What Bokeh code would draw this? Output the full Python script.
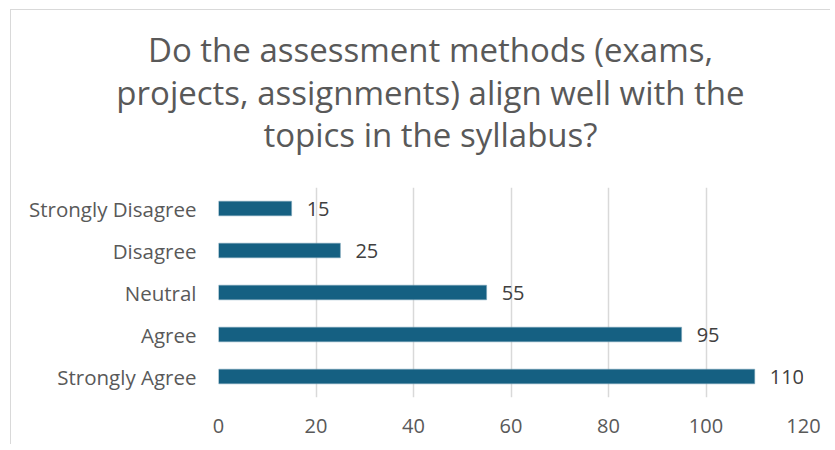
from bokeh.plotting import figure
from bokeh.models import ColumnDataSource, LabelSet, Label, Range1d
from bokeh.layouts import column
from bokeh.core.properties import value
from bokeh.embed import file_html
from bokeh.resources import INLINE

categories = ["Strongly Agree", "Agree", "Neutral", "Disagree", "Strongly Disagree"]
counts = [110, 95, 55, 25, 15]
x_ticks = [0, 20, 40, 60, 80, 100, 120]
title_lines = ["Do the assessment methods (exams,",
               "projects, assignments) align well with the",
               "topics in the syllabus?"]

FONT = "Open Sans"
TXT = "#595959"
W = 819
TH = 167

# ---- title panel ----
tp = figure(width=W, height=TH, x_range=Range1d(0, W), y_range=Range1d(0, TH),
            output_backend="svg", toolbar_location=None,
            x_axis_type=None, y_axis_type=None, min_border=0)
tp.frame_align = False
tp.grid.visible = False
tp.outline_line_color = None
tp.border_fill_color = "white"
for i, t in enumerate(title_lines):
    tp.add_layout(Label(x=419, y=128 - 42.5 * i, x_units="screen", y_units="screen",
                        text=t, text_align="center", text_baseline="alphabetic",
                        text_font=FONT, text_font_size="33px", text_color=TXT))

# ---- bar chart ----
src = ColumnDataSource(dict(cat=categories, val=counts, lab=[str(v) for v in counts]))

p = figure(width=W, height=434 - TH, y_range=categories, x_range=Range1d(0, 120),
           output_backend="svg", toolbar_location=None,
           min_border_left=207, min_border_right=27, min_border_top=10, min_border_bottom=47)
p.frame_align = False

p.hbar(y="cat", right="val", left=0, height=0.35, source=src,
       fill_color="#156082", line_color="#7fa6bb", line_width=0.5)

labels = LabelSet(x="val", y="cat", text="lab", source=src, x_offset=15,
                  text_baseline="middle", text_align="left",
                  text_font_size="20px", text_color="#404040", text_font=value(FONT))
p.add_layout(labels)

p.xaxis.ticker = x_ticks
p.xaxis.major_tick_line_color = None
p.xaxis.minor_tick_line_color = None
p.xaxis.axis_line_color = None
p.xaxis.major_label_text_font = FONT
p.xaxis.major_label_text_font_size = "20px"
p.xaxis.major_label_text_color = TXT
p.xaxis.major_label_standoff = 15

p.yaxis.major_tick_line_color = None
p.yaxis.minor_tick_line_color = None
p.yaxis.axis_line_color = None
p.yaxis.major_label_text_font = FONT
p.yaxis.major_label_text_font_size = "20.5px"
p.yaxis.major_label_text_color = TXT
p.yaxis.major_label_standoff = 16

p.xgrid.grid_line_color = "#d9d9d9"
p.xgrid.grid_line_width = 1.5
p.ygrid.grid_line_color = None
p.outline_line_color = None
p.background_fill_color = "white"
p.border_fill_color = "white"
p.y_range.range_padding = 0

layout = column(tp, p, spacing=0,
                styles={"margin-left": "10px", "margin-top": "9px",
                        "border-left": "1px solid #d9d9d9",
                        "border-top": "1px solid #d9d9d9"})

open("out.html", "w").write(file_html(layout, INLINE))
